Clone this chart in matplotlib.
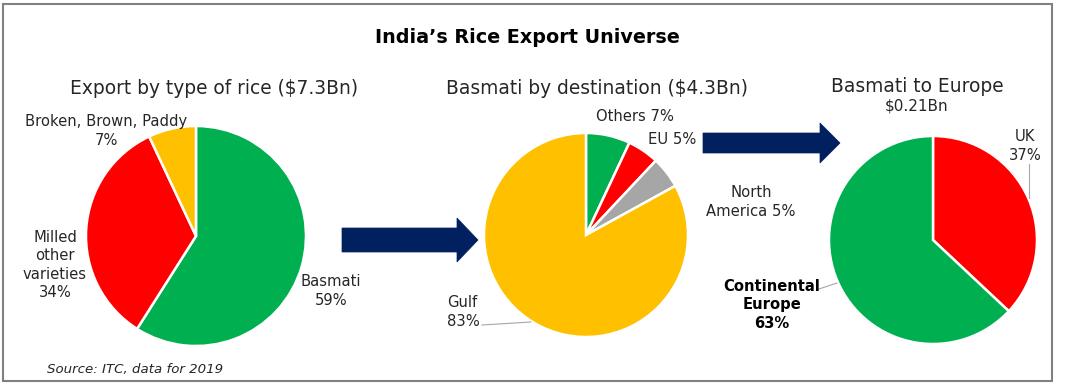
import matplotlib
matplotlib.use("Agg")
import matplotlib.pyplot as plt
from matplotlib.patches import FancyArrow, Rectangle

# ---- data ----
type_labels = ["Basmati", "Milled\nother\nvarieties", "Broken, Brown, Paddy"]
type_values = [59, 34, 7]
type_colors = ["#00B050", "#FF0000", "#FFC000"]

dest_labels = ["Others", "EU", "North\nAmerica", "Gulf"]
dest_values = [7, 5, 5, 83]
dest_colors = ["#00B050", "#FF0000", "#A6A6A6", "#FFC000"]

eu_labels = ["UK", "Continental\nEurope"]
eu_values = [37, 63]
eu_colors = ["#FF0000", "#00B050"]

W, H = 1068, 392
fig = plt.figure(figsize=(W / 100, H / 100), dpi=100)
ax = fig.add_axes([0, 0, 1, 1])

FONT = "DejaVu Sans"
TXT = "#262626"


def Y(y):
    return H - y


def draw_pie(values, colors, cx, cy, r):
    ax.pie(values, colors=colors, startangle=90, counterclock=False,
           center=(cx, Y(cy)), radius=r,
           wedgeprops=dict(edgecolor="white", linewidth=1.8))


draw_pie(type_values, type_colors, 196, 236, 110)
draw_pie(dest_values, dest_colors, 586, 235, 102)
draw_pie(eu_values, eu_colors, 933, 240, 104)

ax.set_xlim(0, W)
ax.set_ylim(0, H)
ax.set_aspect("auto")
ax.axis("off")

# frame
ax.add_patch(Rectangle((2.5, Y(381)), 1049.5, 377, fill=False,
                       edgecolor="#808080", linewidth=1.5))

# title
ax.text(527, Y(37), "India\u2019s Rice Export Universe", ha="center", va="center",
        fontsize=13.8, fontweight="bold", color="black", family=FONT)

# subtitles
SS = 13.4
ax.text(214, Y(88), "Export by type of rice ($7.3Bn)", ha="center", va="center",
        fontsize=SS, color=TXT, family=FONT)
ax.text(597, Y(88), "Basmati by destination ($4.3Bn)", ha="center", va="center",
        fontsize=SS, color=TXT, family=FONT)
ax.text(917, Y(86), "Basmati to Europe", ha="center", va="center",
        fontsize=SS, color=TXT, family=FONT)
ax.text(917, Y(106), "$0.21Bn", ha="center", va="center",
        fontsize=11, color=TXT, family=FONT)

LS = 10.6
LSP = 1.3
# pie 1 labels
ax.text(106, Y(131), f"{type_labels[2]}\n{type_values[2]}%", ha="center", va="center",
        fontsize=LS, color=TXT, family=FONT, linespacing=LSP)
ax.text(55, Y(265), f"{type_labels[1]}\n{type_values[1]}%", ha="center", va="center",
        fontsize=LS, color=TXT, family=FONT, linespacing=LSP)
ax.text(331, Y(291), f"{type_labels[0]}\n{type_values[0]}%", ha="center", va="center",
        fontsize=LS, color=TXT, family=FONT, linespacing=LSP)

# pie 2 labels
ax.text(635, Y(116), f"{dest_labels[0]} {dest_values[0]}%", ha="center", va="center",
        fontsize=LS, color=TXT, family=FONT)
ax.text(672, Y(139), f"{dest_labels[1]} {dest_values[1]}%", ha="center", va="center",
        fontsize=LS, color=TXT, family=FONT)
ax.text(751, Y(202), f"{dest_labels[2]} {dest_values[2]}%", ha="center", va="center",
        fontsize=LS, color=TXT, family=FONT, linespacing=LSP)
ax.text(447, Y(312), f"{dest_labels[3]}\n{dest_values[3]}%", ha="left", va="center",
        fontsize=LS, color=TXT, family=FONT, linespacing=LSP)
ax.plot([482, 531], [Y(325), Y(322)], color="#A6A6A6", linewidth=0.8)

# pie 3 labels
ax.text(1025, Y(146), f"{eu_labels[0]}\n{eu_values[0]}%", ha="center", va="center",
        fontsize=LS, color=TXT, family=FONT, linespacing=LSP)
ax.plot([1029, 1029], [Y(164), Y(198)], color="#A6A6A6", linewidth=0.8)
ax.text(772, Y(305), f"{eu_labels[1]}\n{eu_values[1]}%", ha="center", va="center",
        fontsize=LS, color="black", family=FONT, fontweight="bold", linespacing=LSP)
ax.plot([819, 837], [Y(289), Y(283)], color="#A6A6A6", linewidth=0.8)

# arrows
NAVY = "#002060"
ax.add_patch(FancyArrow(342, Y(240), 136, 0, width=24, head_width=44,
                        head_length=21, length_includes_head=True,
                        facecolor=NAVY, edgecolor=NAVY, linewidth=0.5))
ax.add_patch(FancyArrow(703, Y(143), 137, 0, width=20, head_width=40,
                        head_length=20, length_includes_head=True,
                        facecolor=NAVY, edgecolor=NAVY, linewidth=0.5))

# source
ax.text(47, Y(369), "Source: ITC, data for 2019", ha="left", va="center",
        fontsize=9.6, style="italic", color=TXT, family=FONT)

fig.savefig("out.png", dpi=100)
